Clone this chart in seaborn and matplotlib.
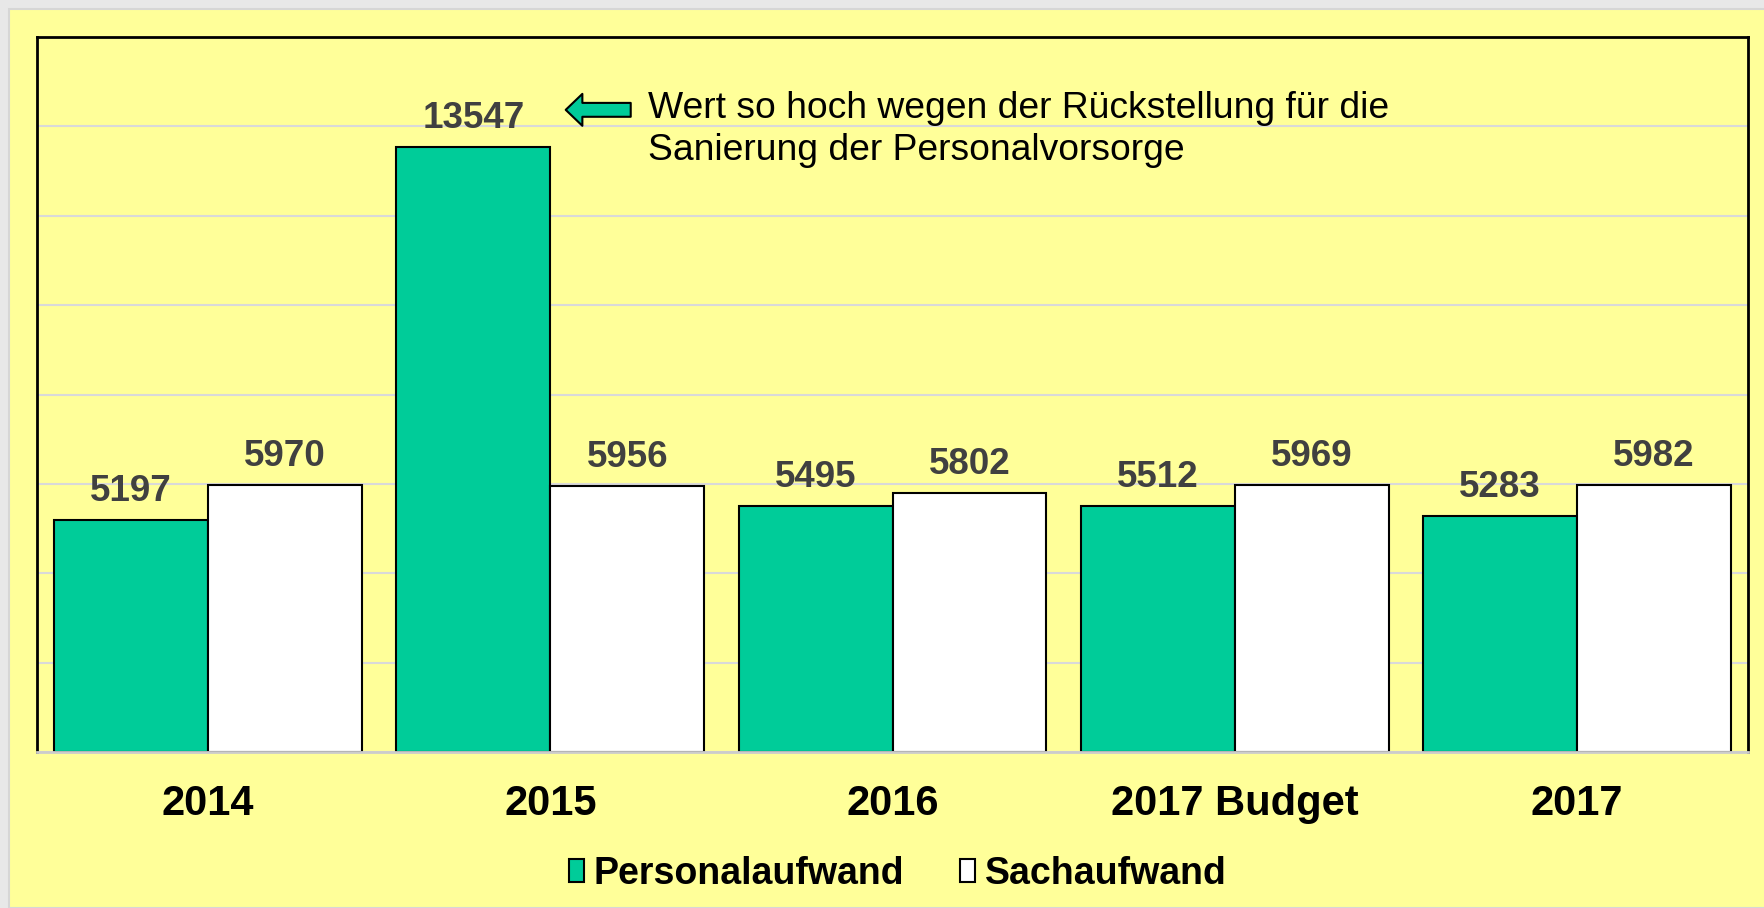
import pandas as pd
import matplotlib.pyplot as plt
import matplotlib.patches as mpatches
import seaborn as sns

# Daten
jahre = ['2014', '2015', '2016', '2017 Budget', '2017']
personalaufwand = [5197, 13547, 5495, 5512, 5283]
sachaufwand = [5970, 5956, 5802, 5969, 5982]
serien = ['Personalaufwand', 'Sachaufwand']
farben = ['#00CC99', '#FFFFFF']
hinweis = 'Wert so hoch wegen der Rückstellung für die\nSanierung der Personalvorsorge'

df = pd.DataFrame({
    'Jahr': jahre * 2,
    'Wert': personalaufwand + sachaufwand,
    'Art': [serien[0]] * len(jahre) + [serien[1]] * len(jahre),
})

plt.rcParams['font.family'] = ['Liberation Sans', 'DejaVu Sans']

gelb = '#FFFF99'
fig = plt.figure(figsize=(17.64, 9.08), dpi=100, facecolor='#E8E8E8')
# gelber Hintergrund (grauer Rand oben und links)
fig.patches.append(mpatches.Rectangle((9 / 1764, 0), 1, 1 - 9 / 908,
                                      transform=fig.transFigure, facecolor=gelb,
                                      edgecolor='#D6D6D6', lw=1.5, zorder=-10))

ax = fig.add_axes([37 / 1764, 1 - 752 / 908, (1748 - 37) / 1764, (752 - 37) / 908])
ax.set_facecolor(gelb)

sns.barplot(data=df, x='Jahr', y='Wert', hue='Art', palette=farben,
            edgecolor='black', linewidth=1.5, width=0.9, ax=ax, saturation=1)

ax.set_ylim(0, 16000)
ax.set_xlim(-0.5, 4.5)
ax.set_yticks(range(0, 16001, 2000))
ax.set_yticklabels([])
ax.tick_params(axis='y', length=0)
ax.tick_params(axis='x', length=0, pad=23, labelsize=30)
for lbl in ax.get_xticklabels():
    lbl.set_fontweight('bold')
ax.set_xlabel('')
ax.set_ylabel('')
ax.yaxis.grid(True, color='#D9D9D9', lw=1.5)
ax.set_axisbelow(True)

for s in ['left', 'top', 'right']:
    ax.spines[s].set_color('black')
    ax.spines[s].set_linewidth(2)
ax.spines['bottom'].set_color('#CCCCCC')
ax.spines['bottom'].set_linewidth(2)

# Werte ueber den Balken
for cont in ax.containers:
    ax.bar_label(cont, fmt='%d', padding=8, fontsize=26.5, fontweight='bold',
                 color='#404040')

# Hinweis mit Pfeil
ax.annotate('', xy=(1.045, 14370), xytext=(1.235, 14370),
            arrowprops=dict(arrowstyle='simple,head_length=0.6,head_width=1.15,tail_width=0.5',
                            mutation_scale=20, fc='#00CC99', ec='black', lw=1.5,
                            shrinkA=0, shrinkB=0))
ax.text(1.286, 14800, hinweis, fontsize=26.8, va='top', ha='left',
        color='black', linespacing=1.27)

# Legende
handles, labels = ax.get_legend_handles_labels()
ax.legend(handles, labels, loc='center', bbox_to_anchor=(0.503, -0.17), ncol=2,
          frameon=False, prop=dict(weight='bold', size=27), handlelength=0.4,
          handleheight=0.55, handletextpad=0.25, columnspacing=1.5)

fig.savefig('out.png', dpi=100, facecolor=fig.get_facecolor())
